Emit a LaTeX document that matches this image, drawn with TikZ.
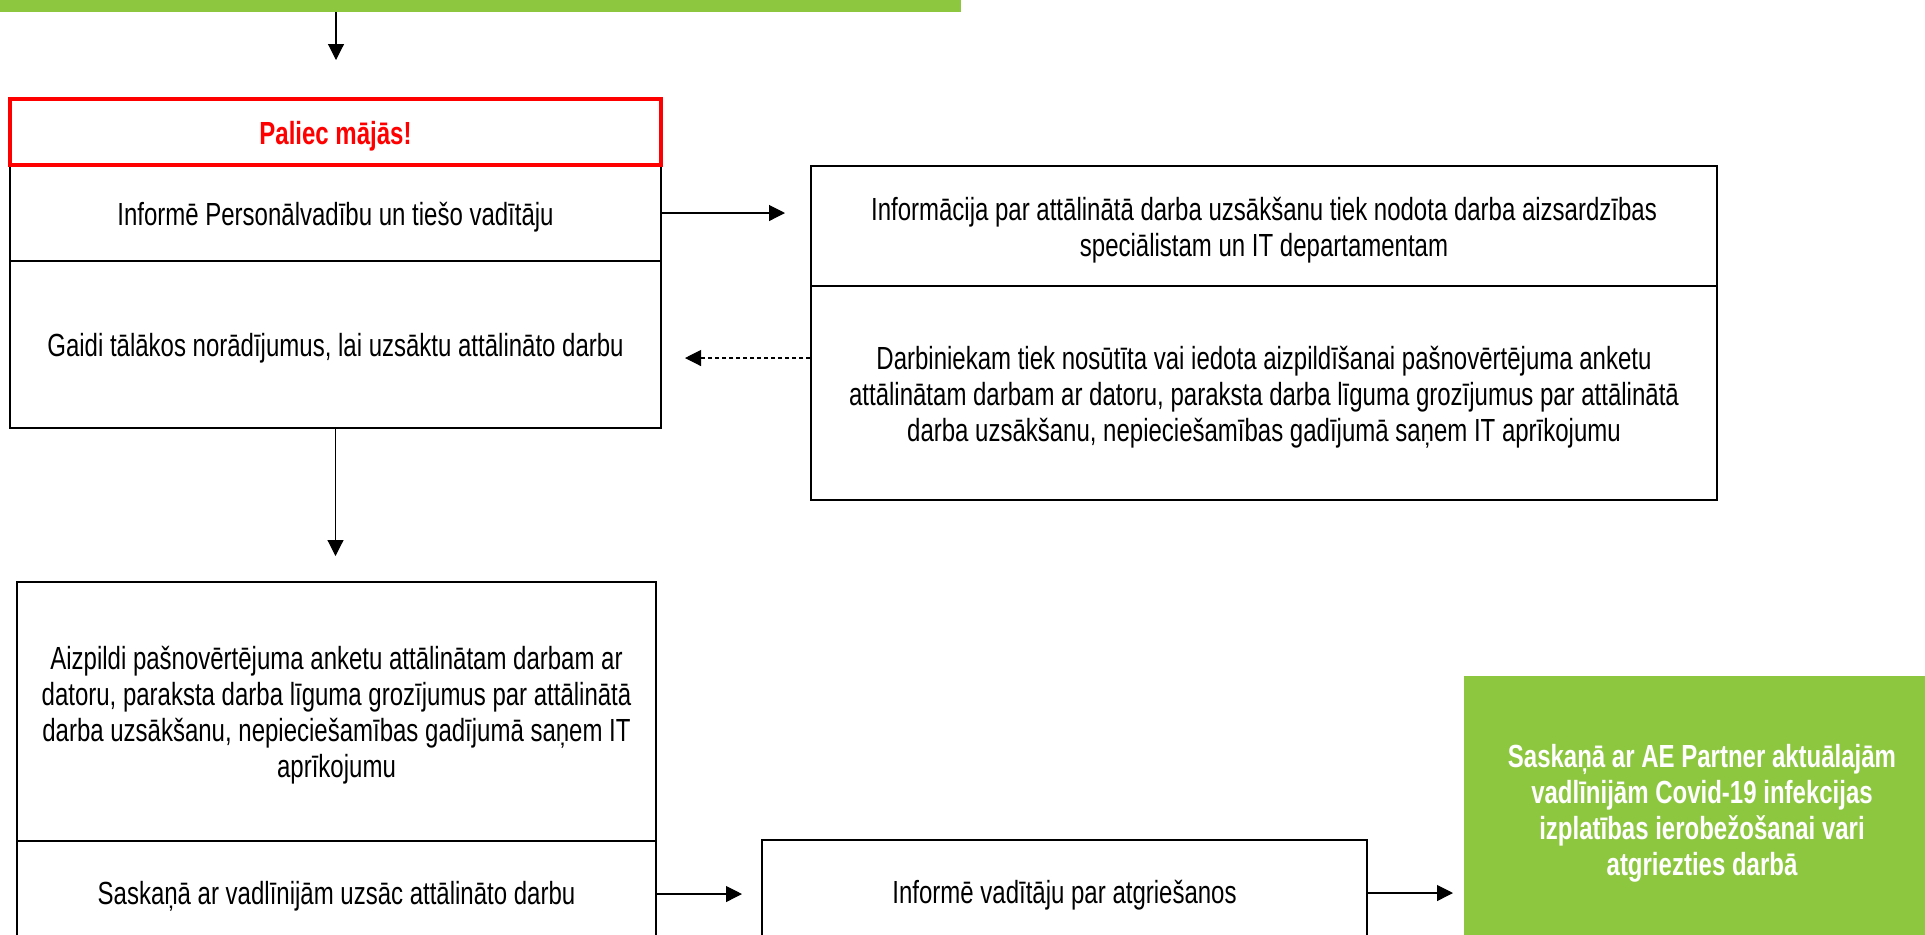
\documentclass[tikz,border=0pt]{standalone}
\usepackage{fontspec}
\setmainfont{Liberation Sans}[FakeStretch=0.75]
\usetikzlibrary{arrows.meta}
\definecolor{agreen}{RGB}{141,198,63}
\definecolor{ared}{RGB}{255,0,0}
\newcommand\tx[1]{\raisebox{-2.5pt}[\height][\depth]{\begin{tabular}{@{}c@{}}#1\end{tabular}}}
\begin{document}
\begin{tikzpicture}[x=0.5pt,y=-0.5pt,
  box/.style={draw=black, line width=1pt, rectangle, inner sep=0pt, align=center,
    font=\fontsize{16pt}{18pt}\selectfont},
  redbox/.style={draw=ared, line width=1.75pt, rectangle, inner sep=0pt, align=center,
    font=\fontsize{16pt}{18pt}\selectfont\bfseries, text=ared},
  greenbox/.style={fill=agreen, rectangle, inner sep=0pt, align=center, text=white,
    font=\fontsize{16pt}{18pt}\selectfont\bfseries},
  arr/.style={-{Triangle[length=8pt,width=8pt]}, line width=0.55pt, draw=black},
  darr/.style={arr, dash pattern=on 2pt off 1.5pt}
]
\useasboundingbox (0,0) rectangle (1925,934);

% top green bar
\node[greenbox, minimum width=480.5pt, minimum height=11pt, anchor=south west] (top) at (0,12) {};

% left column, upper group
\node[box, minimum width=325.5pt, minimum height=48pt] (inf1) at (335.5,213)
  {\tx{Informē Personālvadību un tiešo vadītāju}};
\node[box, minimum width=325.5pt, minimum height=83.5pt] (gaidi) at (335.5,344.5)
  {\tx{Gaidi tālākos norādījumus, lai uzsāktu attālināto darbu}};
\node[redbox, minimum width=325.5pt, minimum height=33pt] (home) at (335.5,132)
  {\tx{Paliec mājās!}};

% right column
\node[box, minimum width=453pt, minimum height=60pt] (info2) at (1264,226)
  {\tx{Informācija par attālinātā darba uzsākšanu tiek nodota darba aizsardzības\\speciālistam un IT departamentam}};
\node[box, minimum width=453pt, minimum height=107pt] (darbin) at (1264,393)
  {\tx{Darbiniekam tiek nosūtīta vai iedota aizpildīšanai pašnovērtējuma anketu\\attālinātam darbam ar datoru, paraksta darba līguma grozījumus par attālinātā\\darba uzsākšanu, nepieciešamības gadījumā saņem IT aprīkojumu}};

% lower group
\node[box, minimum width=319.5pt, minimum height=129.5pt] (aizp) at (336.5,711.5)
  {\tx{Aizpildi pašnovērtējuma anketu attālinātam darbam ar\\datoru, paraksta darba līguma grozījumus par attālinātā\\darba uzsākšanu, nepieciešamības gadījumā saņem IT\\aprīkojumu}};
\node[box, minimum width=319.5pt, minimum height=51pt] (sask) at (336.5,892)
  {\tx{Saskaņā ar vadlīnijām uzsāc attālināto darbu}};
\node[box, minimum width=302.5pt, minimum height=51.5pt] (infv) at (1064.5,891.5)
  {\tx{Informē vadītāju par atgriešanos}};
\node[greenbox, minimum width=238pt, minimum height=133pt] (green) at (1702,809)
  {\tx{Saskaņā ar AE Partner aktuālajām\\vadlīnijām Covid-19 infekcijas\\izplatības ierobežošanai vari\\atgriezties darbā}};

% connectors
\coordinate (e1) at (336,60);
\draw[arr] (top.south -| e1) -- (e1);
\coordinate (e2) at (785,213);
\draw[arr] (inf1.east) -- (e2);
\coordinate (e3) at (685,358);
\draw[darr] (darbin.west |- e3) -- (e3);
\coordinate (e4) at (335.5,556);
\draw[arr] (gaidi.south) -- (e4);
\coordinate (e5) at (742,894);
\draw[arr] (sask.east |- e5) -- (e5);
\coordinate (e6) at (1453,893);
\draw[arr] (infv.east |- e6) -- (e6);
\end{tikzpicture}
\end{document}
